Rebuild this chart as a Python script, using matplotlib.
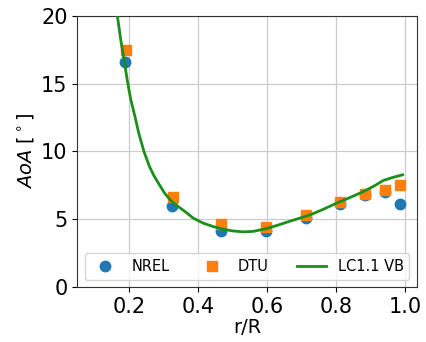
import matplotlib
matplotlib.use("Agg")
import matplotlib.pyplot as plt
import numpy as np

# Radial stations and angle of attack
r_nrel = [0.1875, 0.3255, 0.4675, 0.596, 0.711, 0.81, 0.884, 0.942, 0.985]
aoa_nrel = [16.6, 5.98, 4.12, 4.12, 5.05, 6.08, 6.8, 7.0, 6.15]

r_dtu = [0.191, 0.3275, 0.4675, 0.596, 0.713, 0.81, 0.884, 0.942, 0.985]
aoa_dtu = [17.5, 6.64, 4.63, 4.43, 5.29, 6.27, 6.89, 7.13, 7.5]

# LC1.1 VB curve
r_vb = [0.162, 0.166, 0.176, 0.1855, 0.195, 0.205, 0.217, 0.228, 0.243,
        0.259, 0.272, 0.285, 0.302, 0.319, 0.335, 0.352, 0.370, 0.386,
        0.415, 0.444, 0.470, 0.500, 0.531, 0.560, 0.598, 0.630, 0.666,
        0.724, 0.760, 0.801, 0.840, 0.878, 0.910, 0.936, 0.960, 0.992]
aoa_vb = [20.7, 20.0, 18.2, 16.75, 15.2, 13.8, 12.57, 11.34, 9.99,
          8.88, 8.2, 7.65, 6.95, 6.42, 6.05, 5.75, 5.4, 5.07,
          4.7, 4.45, 4.27, 4.13, 4.06, 4.1, 4.3, 4.55, 4.85,
          5.31, 5.7, 6.18, 6.6, 7.03, 7.45, 7.85, 8.05, 8.27]

fig = plt.figure(figsize=(4.27, 3.42), dpi=100)
ax = fig.add_axes([0.181, 0.161, 0.795, 0.793])

ax.plot(r_nrel, aoa_nrel, 'o', color='#1f77b4', markersize=7.5, label='NREL', zorder=3)
ax.plot(r_dtu, aoa_dtu, 's', color='#ff7f0e', markersize=7.5, label='DTU', zorder=3)
ax.plot(r_vb, aoa_vb, '-', color='#1a8f1a', linewidth=2, label='LC1.1 VB', zorder=4)

ax.set_xlim(0.05, 1.033)
ax.set_ylim(0, 20)
ax.set_xticks([0.2, 0.4, 0.6, 0.8, 1.0])
ax.set_yticks([0, 5, 10, 15, 20])
ax.tick_params(labelsize=15)
ax.grid(True, color='#cccccc', linewidth=0.9)
ax.set_axisbelow(True)
for s in ax.spines.values():
    s.set_color('#333333')

ax.set_xlabel('r/R', fontsize=14, labelpad=1)
ax.set_ylabel(r'$AoA$ [$^\circ$]', fontsize=14, labelpad=4)

ax.legend(loc='lower left', bbox_to_anchor=(0, 0, 1, 1), mode='expand', ncol=3,
          fontsize=10.5, borderaxespad=0.5, handlelength=2.0, numpoints=1)

fig.savefig('out.png', dpi=100)
